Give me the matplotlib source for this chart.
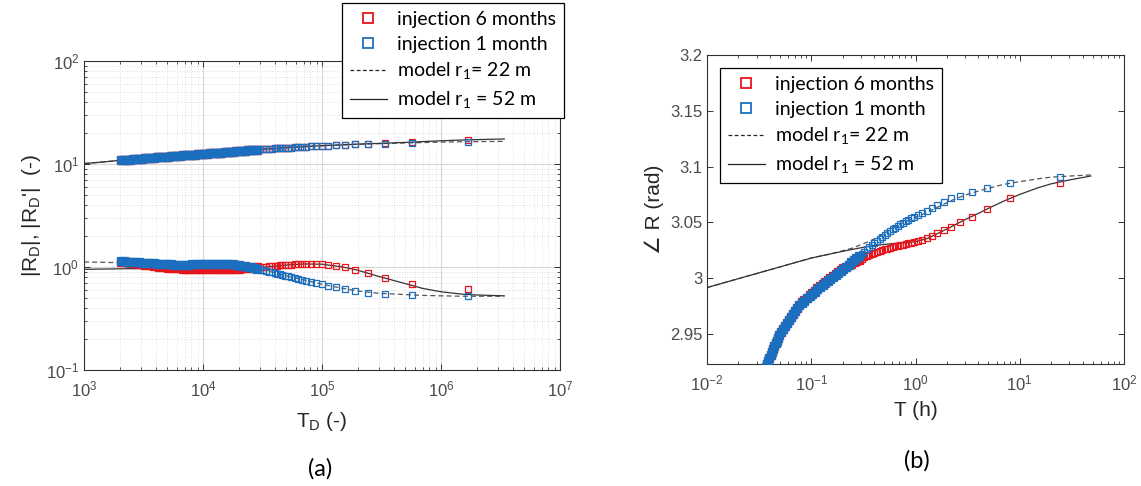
import matplotlib
matplotlib.use('Agg')
import matplotlib.pyplot as plt
from matplotlib.ticker import FixedLocator, FuncFormatter, NullFormatter, LogLocator
from matplotlib.lines import Line2D

# ---------------- (a) |R_D| vs T_D ----------------
td = [2060, 2160, 2290, 2430, 2570, 2720, 2880, 3050, 3230, 3420,
      3630, 3840, 4070, 4300, 4550, 4850, 5100, 5400, 5750, 6100,
      6450, 6800, 7200, 7650, 8100, 8600, 9100, 9600, 10200, 10800,
      11400, 12100, 12800, 13500, 14300, 15200, 16100, 17000, 18000, 19100,
      20200, 21400, 22700, 24000, 25400, 26900, 28500, 30200, 32000, 33900,
      35900, 38000, 40000, 42000, 44000, 46000, 49000, 52000, 55000, 59000,
      63000, 68000, 74000, 81000, 89000, 100000, 113000, 131000, 155000, 189000,
      243000, 340000, 567000, 1700000]

hi_6m = [10.9, 10.95, 11.0, 11.05, 11.1, 11.2, 11.25, 11.3, 11.35, 11.4,
         11.45, 11.5, 11.6, 11.65, 11.7, 11.75, 11.8, 11.85, 11.95, 12.0,
         12.05, 12.1, 12.15, 12.25, 12.3, 12.35, 12.4, 12.45, 12.5, 12.6,
         12.65, 12.7, 12.8, 12.85, 12.9, 13.0, 13.05, 13.1, 13.2, 13.3,
         13.35, 13.4, 13.5, 13.55, 13.6, 13.7, 13.75, 13.85, 13.9, 14.0,
         14.05, 14.1, 14.15, 14.2, 14.25, 14.3, 14.35, 14.4, 14.45, 14.5,
         14.6, 14.65, 14.75, 14.8, 14.9, 15.0, 15.1, 15.2, 15.35, 15.5,
         15.65, 15.9, 16.2, 17.1]
hi_1m = [10.9, 10.95, 11.0, 11.05, 11.1, 11.2, 11.25, 11.3, 11.35, 11.4,
         11.45, 11.5, 11.6, 11.65, 11.7, 11.75, 11.8, 11.85, 11.95, 12.0,
         12.05, 12.1, 12.15, 12.25, 12.3, 12.35, 12.4, 12.45, 12.5, 12.6,
         12.65, 12.7, 12.8, 12.85, 12.9, 13.0, 13.05, 13.1, 13.2, 13.3,
         13.35, 13.4, 13.5, 13.55, 13.6, 13.7, 13.75, 13.85, 13.9, 14.0,
         14.05, 14.1, 14.15, 14.2, 14.25, 14.3, 14.35, 14.4, 14.45, 14.5,
         14.6, 14.65, 14.75, 14.8, 14.9, 15.0, 15.1, 15.2, 15.35, 15.5,
         15.65, 15.8, 16.0, 16.4]
lo_6m = [1.13, 1.125, 1.115, 1.105, 1.095, 1.085, 1.075, 1.065, 1.055, 1.045,
         1.035, 1.025, 1.015, 1.005, 1.0, 0.99, 0.985, 0.98, 0.975, 0.97,
         0.97, 0.965, 0.965, 0.96, 0.96, 0.96, 0.955, 0.955, 0.955, 0.955,
         0.955, 0.955, 0.955, 0.955, 0.955, 0.955, 0.96, 0.96, 0.96, 0.965,
         0.965, 0.97, 0.975, 0.98, 0.985, 0.99, 0.995, 1.0, 1.005, 1.01,
         1.015, 1.02, 1.025, 1.03, 1.035, 1.04, 1.045, 1.05, 1.055, 1.06,
         1.065, 1.07, 1.075, 1.075, 1.07, 1.06, 1.045, 1.02, 0.99, 0.945,
         0.875, 0.79, 0.69, 0.61]
lo_1m = [1.14, 1.135, 1.13, 1.125, 1.12, 1.115, 1.11, 1.105, 1.10, 1.095,
         1.09, 1.085, 1.08, 1.075, 1.07, 1.065, 1.06, 1.06, 1.055, 1.055,
         1.055, 1.055, 1.055, 1.055, 1.06, 1.06, 1.06, 1.065, 1.065, 1.07,
         1.07, 1.075, 1.075, 1.075, 1.075, 1.075, 1.07, 1.065, 1.06, 1.05,
         1.04, 1.03, 1.02, 1.005, 0.99, 0.975, 0.96, 0.945, 0.93, 0.915,
         0.90, 0.885, 0.87, 0.86, 0.85, 0.84, 0.825, 0.81, 0.80, 0.785,
         0.77, 0.755, 0.735, 0.72, 0.70, 0.68, 0.66, 0.64, 0.615, 0.59,
         0.565, 0.55, 0.535, 0.52]

td_model = [1000, 1500, 2000, 3000, 5000, 7000, 10000, 15000, 20000, 30000,
            40000, 50000, 70000, 100000, 150000, 200000, 300000, 500000,
            700000, 1000000, 1500000, 2000000, 3400000]
hi_r22 = [10.1, 10.5, 10.85, 11.3, 11.85, 12.2, 12.6, 13.05, 13.35, 13.8,
          14.15, 14.4, 14.75, 15.05, 15.35, 15.55, 15.75, 16.0, 16.15, 16.3,
          16.45, 16.5, 16.6]
hi_r52 = [10.1, 10.5, 10.85, 11.3, 11.85, 12.2, 12.6, 13.05, 13.35, 13.8,
          14.15, 14.4, 14.75, 15.05, 15.35, 15.6, 15.85, 16.2, 16.5, 16.8,
          17.1, 17.25, 17.5]
lo_r22 = [1.12, 1.11, 1.10, 1.08, 1.065, 1.06, 1.06, 1.06, 1.04, 0.96,
          0.88, 0.82, 0.75, 0.68, 0.62, 0.585, 0.555, 0.54, 0.53, 0.525,
          0.52, 0.52, 0.52]
lo_r52 = [0.95, 0.955, 0.96, 0.965, 0.965, 0.965, 0.965, 0.965, 0.97, 0.99,
          1.02, 1.045, 1.07, 1.065, 1.0, 0.93, 0.81, 0.69, 0.62, 0.575,
          0.545, 0.535, 0.525]

# ---------------- (b) phase vs T ----------------
t_h = [0.0355, 0.0365, 0.0375, 0.0386, 0.0397, 0.0408, 0.0419, 0.0431, 0.0443, 0.0455,
       0.0468, 0.0481, 0.0494, 0.0508, 0.0532, 0.0557, 0.0583, 0.0610, 0.0639, 0.0669,
       0.0700, 0.0733, 0.0767, 0.0812, 0.0860, 0.0911, 0.0965, 0.1022, 0.1082, 0.1146,
       0.1213, 0.1285, 0.1361, 0.1441, 0.1526, 0.1616, 0.1711, 0.1812, 0.1919, 0.2032,
       0.2152, 0.2279, 0.2413, 0.2555, 0.2706, 0.2866, 0.3035, 0.3214, 0.3403, 0.3604,
       0.3817, 0.4042, 0.4280, 0.4533, 0.4800, 0.5083, 0.5383, 0.5700, 0.6037, 0.6393,
       0.6770, 0.7169, 0.7592, 0.8040, 0.8514, 0.9016, 0.972, 1.057, 1.16, 1.28,
       1.43, 1.62, 1.87, 2.21, 2.7, 3.47, 4.86, 8.1, 24.3]
ph_1m = [2.918, 2.9206, 2.9232, 2.9258, 2.9284, 2.931, 2.9336, 2.9362, 2.9388, 2.9414,
         2.944, 2.9466, 2.9492, 2.9515, 2.9542, 2.9569, 2.9596, 2.9623, 2.965, 2.9677,
         2.9704, 2.9731, 2.9755, 2.9776, 2.9797, 2.9818, 2.9839, 2.9859, 2.9879, 2.9899,
         2.9919, 2.9939, 2.9958, 2.9977, 2.9995, 3.0013, 3.0031, 3.0049, 3.0067, 3.0085,
         3.0103, 3.0121, 3.014, 3.0159, 3.0178, 3.0197, 3.0217, 3.0237, 3.0257, 3.0277,
         3.0297, 3.0317, 3.0335, 3.0353, 3.0371, 3.0389, 3.0405, 3.0421, 3.0437, 3.0453,
         3.0467, 3.0481, 3.0495, 3.0509, 3.0523, 3.0535, 3.0551, 3.0565, 3.0585, 3.0605,
         3.063, 3.0655, 3.0685, 3.0715, 3.074, 3.077, 3.0805, 3.0853, 3.0908]
ph_6m = [2.918, 2.9206, 2.9232, 2.9258, 2.9284, 2.931, 2.9336, 2.9362, 2.9388, 2.9414,
         2.944, 2.9466, 2.9492, 2.9515, 2.9542, 2.9569, 2.9596, 2.9623, 2.965, 2.9677,
         2.9704, 2.9731, 2.9757, 2.9784, 2.9805, 2.9826, 2.9847, 2.9867, 2.9887, 2.9907,
         2.9927, 2.9947, 2.9966, 2.9984, 3.0002, 3.002, 3.0037, 3.0054, 3.007, 3.0087,
         3.0102, 3.0116, 3.0129, 3.0141, 3.0152, 3.0163, 3.0174, 3.0185, 3.0196, 3.0207,
         3.0218, 3.0228, 3.0236, 3.0243, 3.025, 3.0257, 3.0264, 3.0271, 3.0278, 3.0285,
         3.0291, 3.0296, 3.0301, 3.0306, 3.0311, 3.0316, 3.0322, 3.0332, 3.0345, 3.036,
         3.038, 3.0403, 3.043, 3.0462, 3.05, 3.0548, 3.0617, 3.0716, 3.0855]

t_model = [0.01, 0.02, 0.05, 0.1, 0.15, 0.2, 0.25, 0.3, 0.35, 0.4,
           0.5, 0.6, 0.7, 0.85, 1.0, 1.3, 1.7, 2.2, 3, 4,
           5, 7, 10, 15, 20, 30, 48]
ph_r22 = [2.9915, 2.9995, 3.0100, 3.0180, 3.0215, 3.0245, 3.027, 3.030, 3.0325, 3.035,
          3.040, 3.0445, 3.048, 3.0515, 3.0545, 3.059, 3.0645, 3.0695, 3.0745, 3.078,
          3.0805, 3.0840, 3.0865, 3.0890, 3.0905, 3.0915, 3.0925]
ph_r52 = [2.9915, 2.9995, 3.0100, 3.0180, 3.0215, 3.0240, 3.0258, 3.0272, 3.0283, 3.0291,
          3.0302, 3.0309, 3.0314, 3.0320, 3.0327, 3.0355, 3.0408, 3.0460, 3.0525, 3.0580,
          3.0625, 3.0690, 3.0750, 3.0810, 3.0845, 3.0880, 3.0915]

labels = ['injection 6 months', 'injection 1 month',
          r'model r$_\mathregular{1}$= 22 m', r'model r$_\mathregular{1}$ = 52 m']

RED = '#e8141c'
BLUE = '#1c6fbe'
plt.rcParams['font.family'] = ['Liberation Sans', 'DejaVu Sans']

W, H = 1141, 486
fig = plt.figure(figsize=(W / 100, H / 100), dpi=100)
ax1 = fig.add_axes([84 / W, 1 - 370 / H, 476 / W, 309 / H])
ax2 = fig.add_axes([707 / W, 1 - 364 / H, 417 / W, 309 / H])


def squares(ax, x, y, color, z, n_dense):
    # early samples are packed so tightly that the outlines merge into a band
    ax.plot(x[:n_dense], y[:n_dense], marker='s', ls='none', ms=5.3, mew=0.9,
            mec=color, mfc=color, zorder=z)
    ax.plot(x[n_dense - 1:], y[n_dense - 1:], marker='s', ls='none', ms=4.8,
            mew=0.9, mec=color, mfc='none', zorder=z)


# panel (a)
ax1.plot(td_model, hi_r22, '--', color='#555555', lw=0.9, dashes=(4, 2.5), zorder=2)
ax1.plot(td_model, lo_r22, '--', color='#555555', lw=0.9, dashes=(4, 2.5), zorder=2)
ax1.plot(td_model, hi_r52, '-', color='#333333', lw=0.9, zorder=2)
ax1.plot(td_model, lo_r52, '-', color='#333333', lw=0.9, zorder=2)
squares(ax1, td, hi_6m, RED, 3, 47)
squares(ax1, td, lo_6m, RED, 3, 47)
squares(ax1, td, hi_1m, BLUE, 4, 47)
squares(ax1, td, lo_1m, BLUE, 4, 47)
ax1.set_xscale('log')
ax1.set_yscale('log')
ax1.set_xlim(1e3, 1e7)
ax1.set_ylim(1e-1, 1e2)
ax1.grid(True, which='major', color='#d6d6d6', lw=0.8)
ax1.grid(True, which='minor', color='#d6d6d6', lw=0.6, ls=(0, (1, 2)))
ax1.set_axisbelow(True)
ax1.set_xlabel(r'T$_\mathregular{D}$ (-)', fontsize=15, color='#262626', labelpad=8)
ax1.set_ylabel(r"|R$_\mathregular{D}$|, |R$_\mathregular{D}$'|  (-)", fontsize=15,
               color='#262626', labelpad=2)

# panel (b)
ax2.plot(t_model, ph_r22, '--', color='#555555', lw=0.9, dashes=(4, 2.5), zorder=2)
ax2.plot(t_model, ph_r52, '-', color='#333333', lw=0.9, zorder=2)
squares(ax2, t_h, ph_6m, RED, 3, 46)
squares(ax2, t_h, ph_1m, BLUE, 4, 46)
ax2.set_xscale('log')
ax2.set_xlim(1e-2, 1e2)
ax2.set_ylim(2.923, 3.2)
ax2.yaxis.set_major_locator(FixedLocator([2.95, 3.0, 3.05, 3.1, 3.15, 3.2]))
ax2.yaxis.set_major_formatter(FuncFormatter(lambda v, p: '%g' % v))
ax2.set_xlabel('T (h)', fontsize=15, color='#262626', labelpad=6)
ax2.set_ylabel('\u2220 R (rad)', fontsize=15, color='#262626', labelpad=4)

for ax in (ax1, ax2):
    ax.tick_params(which='both', direction='in', top=True, right=True,
                   color='#333333', labelcolor='#4a4a4a', labelsize=12)
    ax.tick_params(which='major', length=4, width=0.7)
    ax.tick_params(which='minor', length=2.2, width=0.6)
    ax.tick_params(axis='x', which='major', pad=6.5)
    for s in ax.spines.values():
        s.set_color('#333333')
        s.set_linewidth(0.8)
ax2.xaxis.set_minor_locator(LogLocator(subs=range(2, 10)))
ax2.xaxis.set_minor_formatter(NullFormatter())

handles = [Line2D([], [], marker='s', ls='none', mfc='none', mec=RED, ms=6.5, mew=1.3),
           Line2D([], [], marker='s', ls='none', mfc='none', mec=BLUE, ms=6.5, mew=1.3),
           Line2D([], [], ls='--', color='#222222', lw=0.9, dashes=(3, 2)),
           Line2D([], [], ls='-', color='#222222', lw=0.9)]

for anchor in [(342 / W, 1 - 3 / H), (720 / W, 1 - 68 / H)]:
    leg = fig.legend(handles, labels, loc='upper left', bbox_to_anchor=anchor,
                     bbox_transform=fig.transFigure, borderaxespad=0,
                     prop={'family': 'Lato', 'size': 14}, fancybox=False,
                     framealpha=1, edgecolor='black', handlelength=1.9,
                     handletextpad=0.55, labelspacing=0.4, borderpad=0.4)
    leg.get_frame().set_linewidth(0.9)

fig.text(320 / W, 1 - 469 / H, '(a)', ha='center', va='center', fontsize=17, family='Lato')
fig.text(917 / W, 1 - 461 / H, '(b)', ha='center', va='center', fontsize=17, family='Lato')

fig.savefig('out.png', dpi=100)
